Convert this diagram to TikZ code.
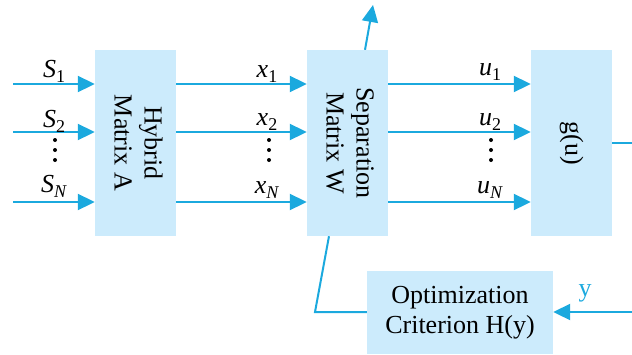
\documentclass[tikz,border=0pt]{standalone}
\usepackage{fontspec}
\setmainfont{Liberation Serif}
\newfontfamily\tms{Liberation Serif}
\usetikzlibrary{arrows.meta}
\definecolor{ln}{RGB}{27,169,222}
\definecolor{bx}{RGB}{204,235,252}
\newcommand{\lbl}[2]{\textit{#1}\raisebox{-0.22em}{\fontsize{18}{18}\selectfont #2}}
\begin{document}
\begin{tikzpicture}[x=1pt,y=-1pt,
  box/.style={draw=none,fill=bx,inner sep=0pt,font=\tms\fontsize{26}{30}\selectfont},
  vbox/.style={box,minimum width=81pt,minimum height=186pt},
  conn/.style={draw=ln,line width=2pt},
  arr/.style={conn,-{Triangle[length=17pt,width=16pt]}},
  lab/.style={font=\tms\fontsize{26}{30}\selectfont,anchor=base,inner sep=0pt},
  dot/.style={circle,fill=black,inner sep=0pt,minimum size=4pt}]
\useasboundingbox (0,0) rectangle (632,354);
% boxes
\node[vbox] (A) at (135.5,143) {\rotatebox{-90}{\begin{tabular}{@{}c@{}}Hybrid\\Matrix A\end{tabular}}};
\node[vbox] (W) at (347.5,143) {\rotatebox{-90}{\begin{tabular}{@{}c@{}}Separation\\Matrix W\end{tabular}}};
\node[vbox] (g) at (571.5,143) {\rotatebox{-90}{g(u)}};
\node[box,align=center,minimum width=186pt,minimum height=83pt] (H) at (460,312.5) {Optimization\\Criterion H(y)};
% inputs
\coordinate (s1) at (13,84);
\coordinate (s2) at (13,132);
\coordinate (sN) at (13,202);
\draw[arr] (s1) -- (s1 -| A.west);
\draw[arr] (s2) -- (s2 -| A.west);
\draw[arr] (sN) -- (sN -| A.west);
\draw[arr] (A.east |- s1) -- (W.west |- s1);
\draw[arr] (A.east |- s2) -- (W.west |- s2);
\draw[arr] (A.east |- sN) -- (W.west |- sN);
\draw[arr] (W.east |- s1) -- (g.west |- s1);
\draw[arr] (W.east |- s2) -- (g.west |- s2);
\draw[arr] (W.east |- sN) -- (g.west |- sN);
% labels
\node[lab] (lS1) at (54,77) {\lbl{S}{1}};
\node[lab] (lS2) at (54,127) {\lbl{S}{2}};
\node[lab] (lSN) at (54,192) {\lbl{S}{\textit{N}}};
\node[lab] (lx1) at (267,77) {\lbl{x}{1}};
\node[lab] (lx2) at (267,125) {\lbl{x}{2}};
\node[lab] (lxN) at (267,193) {\lbl{x}{\textit{N}}};
\node[lab] (lu1) at (490,75) {\lbl{u}{1}};
\node[lab] (lu2) at (490,125) {\lbl{u}{2}};
\node[lab] (luN) at (490,193) {\lbl{u}{\textit{N}}};
% vertical dots
\foreach \xx/\nm in {55/dS,269/dx,491/du}{
  \node[dot] (\nm a) at (\xx,140) {};
  \node[dot] (\nm b) at (\xx,150) {};
  \node[dot] (\nm c) at (\xx,160) {};
}
% top output of W
\coordinate (top) at (373,5);
\draw[arr] ([xshift=17.5pt]W.north) -- (top);
% g output
\coordinate (gout) at (632,143);
\draw[conn] (g.east) -- (gout);
% feedback
\coordinate (yin) at (632,312);
\draw[arr] (yin) -- (yin -| H.east);
\node[lab,text=ln] (ly) at (585,296) {y};
\coordinate (fb) at (315,312);
\draw[conn] (H.west |- yin) -- (fb) -- ([xshift=-18.5pt]W.south);
\end{tikzpicture}
\end{document}
